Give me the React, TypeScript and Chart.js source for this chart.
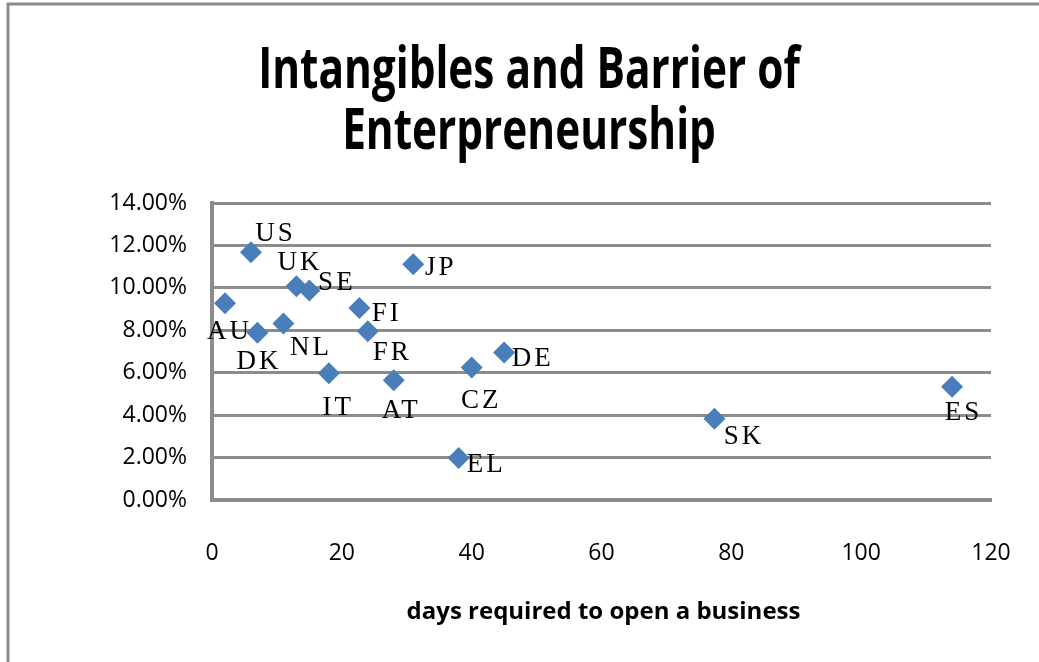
import React, { useEffect, useRef } from "react";
import { Chart, registerables } from "chart.js";

Chart.register(...registerables);

// ---- data ----
const countries = ["US", "AU", "UK", "SE", "DK", "NL", "JP", "FI", "FR", "IT", "AT", "DE", "CZ", "EL", "SK", "ES"];
const daysToOpen = [6, 2, 13, 15, 7, 11, 31, 22.7, 24, 18, 28, 45, 40, 38, 77.4, 114];
const intangiblesPct = [11.68, 9.27, 10.07, 9.88, 7.88, 8.32, 11.11, 9.05, 7.96, 5.98, 5.65, 6.95, 6.24, 1.98, 3.83, 5.34];
const xTicks = [0, 20, 40, 60, 80, 100, 120];
const yTicks = [0, 2, 4, 6, 8, 10, 12, 14];
const titleLines = ["Intangibles and Barrier of", "Enterpreneurship"];
const xTitle = "days required to open a business";

// ---- label placement (style) : offset of label centre from its point ----
const labelOffsets: [number, number][] = [
  [23, -18], [3, 29], [2, -23], [26, -7], [0, 29], [26, 24], [26, 4], [26, 6],
  [23, 22], [8, 35], [6, 31], [27, 6], [8, 33], [26, 7], [28, 18], [10, 26],
];

const GRID = "#8c8c8c";

const decorPlugin = {
  id: "decor",
  beforeDraw(chart: any) {
    const ctx = chart.ctx;
    ctx.save();
    ctx.strokeStyle = GRID;
    ctx.lineWidth = 3;
    ctx.beginPath();
    ctx.moveTo(8, 1000);
    ctx.lineTo(8, 4);
    ctx.lineTo(1100, 4);
    ctx.stroke();
    ctx.restore();
  },
  afterDraw(chart: any) {
    const ctx = chart.ctx;
    ctx.save();
    ctx.fillStyle = "#000";
    ctx.textAlign = "center";
    ctx.textBaseline = "alphabetic";
    // title
    ctx.font = "bold 58px 'Open Sans'";
    const tb = [88, 149];
    titleLines.forEach((t, i) => {
      ctx.save();
      ctx.translate(529, tb[i]);
      ctx.scale(0.73, 1);
      ctx.fillText(t, 0, 0);
      ctx.restore();
    });
    // x axis title
    ctx.font = "bold 24px 'Open Sans'";
    ctx.save();
    const ca = chart.chartArea;
    ctx.translate((ca.left + ca.right) / 2 + 2, 619);
    ctx.fillText(xTitle, 0, 0);
    ctx.restore();
    ctx.restore();
  },
  afterDatasetsDraw(chart: any) {
    const ctx = chart.ctx;
    const meta = chart.getDatasetMeta(0);
    ctx.save();
    ctx.fillStyle = "#000";
    ctx.font = "27px 'Liberation Serif'";
    (ctx as any).letterSpacing = "3px";
    ctx.textAlign = "center";
    ctx.textBaseline = "middle";
    meta.data.forEach((el: any, i: number) => {
      const [dx, dy] = labelOffsets[i];
      ctx.fillText(countries[i], el.x + dx + 1.5, el.y + dy);
    });
    ctx.restore();
  },
};

export default function App() {
  const ref = useRef<HTMLCanvasElement | null>(null);
  useEffect(() => {
    if (!ref.current) return;
    const chart = new Chart(ref.current, {
      type: "scatter",
      data: {
        datasets: [
          {
            label: "countries",
            data: daysToOpen.map((d, i) => ({ x: d, y: intangiblesPct[i] })),
            pointStyle: "rectRot",
            pointRadius: 11,
            pointHoverRadius: 11,
            backgroundColor: "#4A7EBB",
            borderColor: "#4A7EBB",
            borderWidth: 0,
          },
        ],
      },
      options: {
        animation: false,
        responsive: false,
        events: [],
        layout: { padding: { top: 203, right: 48, left: 0, bottom: 0 } },
        plugins: {
          legend: { display: false },
          title: { display: false },
          tooltip: { enabled: false },
        },
        scales: {
          x: {
            type: "linear",
            min: 0,
            max: 120,
            afterFit: (s: any) => {
              s.height = 162;
              s.paddingLeft = 0;
              s.paddingRight = 0;
            },
            afterBuildTicks: (s: any) => { s.ticks = xTicks.map((v) => ({ value: v })); },
            ticks: {
              padding: 40,
              color: "#000",
              font: { family: "'Open Sans'", size: 23 },
            },
            grid: { display: false, drawTicks: false },
            border: { display: true, color: GRID, width: 4 },
          },
          y: {
            type: "linear",
            min: 0,
            max: 14,
            afterFit: (s: any) => {
              s.width = 212;
              s.paddingTop = 0;
              s.paddingBottom = 0;
            },
            afterBuildTicks: (s: any) => { s.ticks = yTicks.map((v) => ({ value: v })); },
            ticks: {
              padding: 25,
              color: "#000",
              font: { family: "'Open Sans'", size: 23 },
              callback: (v: any) => Number(v).toFixed(2) + "%",
            },
            grid: { color: GRID, lineWidth: 3, drawTicks: false },
            border: { display: true, color: GRID, width: 4 },
          },
        },
      },
      plugins: [decorPlugin],
    });
    return () => chart.destroy();
  }, []);
  return (
    <div style={{ position: "fixed", left: 0, top: 0, width: 1039, height: 662, background: "#fff" }}>
      <canvas ref={ref} width={1039} height={662} />
    </div>
  );
}
